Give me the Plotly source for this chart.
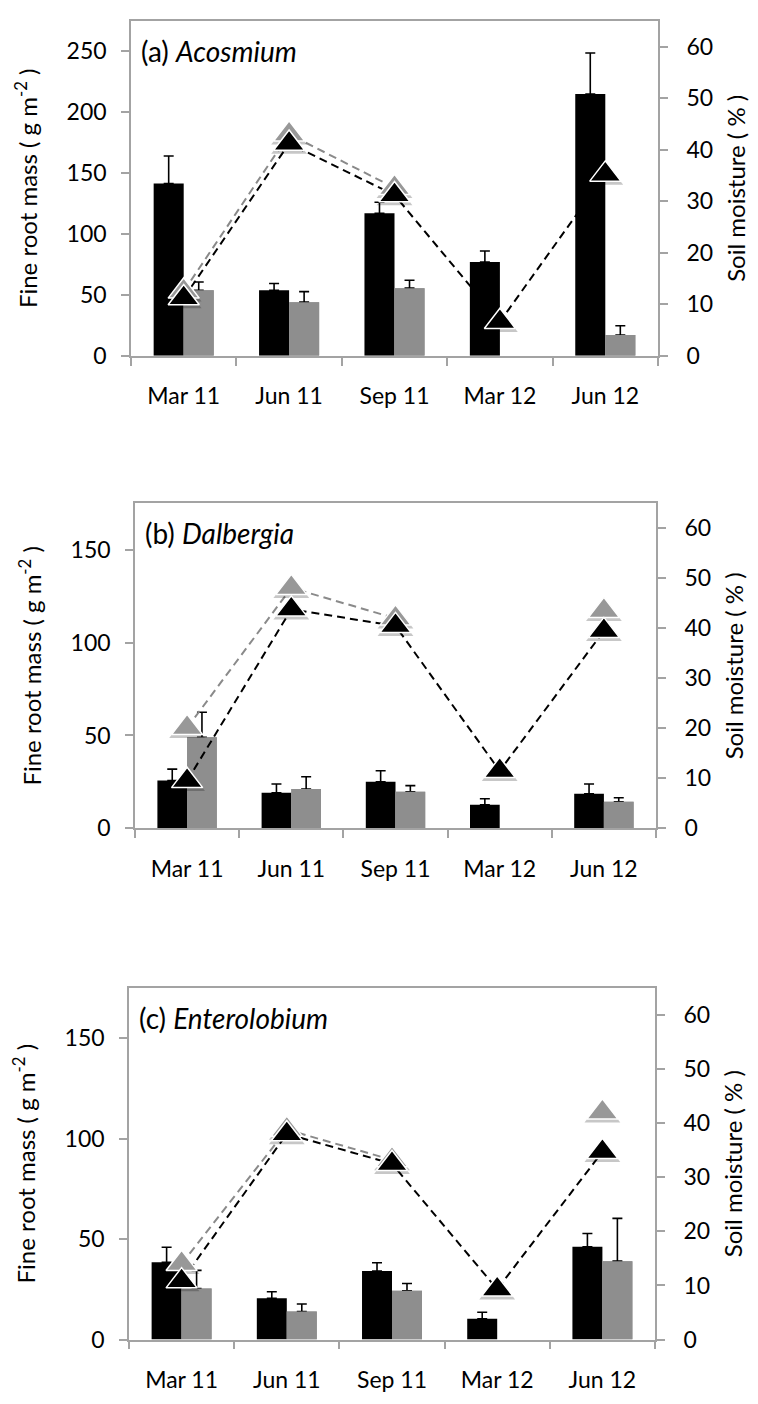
import plotly.graph_objects as go

months = ["Mar 11", "Jun 11", "Sep 11", "Mar 12", "Jun 12"]
root_ticks_a = [0, 50, 100, 150, 200, 250]
root_ticks_bc = [0, 50, 100, 150]
moist_ticks = [0, 10, 20, 30, 40, 50, 60]

panel_labels = ["(a) ", "(b) ", "(c) "]
species = ["Acosmium", "Dalbergia", "Enterolobium"]

# fine root mass (g m-2), black and gray series, with upper error (SE)
a_black = [141.5, 53.8, 117.0, 77.0, 215.0]
a_black_se = [22.5, 5.5, 9.0, 9.0, 33.6]
a_gray = [53.8, 44.0, 55.5, None, 17.0]
a_gray_se = [6.8, 8.7, 6.5, None, 7.6]

b_black = [25.7, 19.1, 25.1, 12.7, 18.6]
b_black_se = [6.2, 4.8, 5.9, 3.2, 5.3]
b_gray = [49.0, 21.2, 19.7, None, 14.3]
b_gray_se = [13.5, 6.6, 3.3, None, 2.2]

c_black = [38.5, 20.5, 34.1, 10.3, 46.2]
c_black_se = [7.4, 3.3, 4.1, 3.3, 6.6]
c_gray = [25.4, 13.9, 24.3, None, 39.0]
c_gray_se = [9.0, 3.8, 3.6, None, 21.3]

# soil moisture (%)
a_moist_black = [11.2, 41.2, 31.2, 6.6, 35.2]
a_moist_gray = [12.5, 43.0, 32.6, None, None]
b_moist_black = [9.5, 43.8, 40.5, 11.5, 39.5]
b_moist_gray = [20.1, 48.1, 42.0, None, 43.5]
c_moist_black = [10.8, 38.0, 32.5, 9.3, 34.7]
c_moist_gray = [14.0, 38.8, 33.2, None, 42.0]

panels = [
    (a_black, a_black_se, a_gray, a_gray_se, a_moist_black, a_moist_gray, root_ticks_a, 275),
    (b_black, b_black_se, b_gray, b_gray_se, b_moist_black, b_moist_gray, root_ticks_bc, 175),
    (c_black, c_black_se, c_gray, c_gray_se, c_moist_black, c_moist_gray, root_ticks_bc, 175),
]

W, H = 758, 1404
# pixel boxes of the plot areas (left, right, top, bottom)
boxes = [(123, 650, 13, 351), (127, 648, 500, 828), (121, 647, 989, 1344)]
MOIST_MAX = 65

FONT = "Lato"
FRAME = "#a3a3a3"
BLACK = "#000000"
GRAY_BAR = "#8e8e8e"
GRAY_MK = "#989898"
SHADOW_PX = 2.5

fig = go.Figure()
layout = dict(
    width=W, height=H, margin=dict(l=0, r=0, t=0, b=0),
    paper_bgcolor="white", plot_bgcolor="white",
    showlegend=False, barmode="group", bargap=0.43, bargroupgap=0,
    font=dict(family=FONT, size=23, color="black"),
    annotations=[],
)


def shadow(vals, px_per_unit):
    return [None if v is None else v - SHADOW_PX / px_per_unit for v in vals]


for i, (blk, blk_se, gry, gry_se, mb, mg, rticks, rmax) in enumerate(panels):
    xid = "x" if i == 0 else f"x{i+1}"
    yl = "y" if i == 0 else f"y{2*i+1}"
    yr = f"y{2*i+2}"
    l, r, t, b = boxes[i]
    xdom = [l / W, r / W]
    ydom = [1 - b / H, 1 - t / H]
    ppu = (b - t) / MOIST_MAX

    fig.add_trace(go.Bar(
        x=months, y=blk, xaxis=xid, yaxis=yl, offsetgroup="k",
        marker=dict(color=BLACK, line=dict(width=0)),
        error_y=dict(type="data", symmetric=False, array=blk_se,
                     arrayminus=[0] * 5, color=BLACK, thickness=1.6, width=5),
        hoverinfo="skip"))
    fig.add_trace(go.Bar(
        x=months, y=gry, xaxis=xid, yaxis=yl, offsetgroup="g",
        marker=dict(color=GRAY_BAR, line=dict(width=0)),
        error_y=dict(type="data", symmetric=False, array=gry_se,
                     arrayminus=[0] * 5, color=BLACK, thickness=1.6, width=5),
        hoverinfo="skip"))
    # same gray bars again, covering the lower cap of the error bars
    fig.add_trace(go.Bar(
        x=months, y=gry, xaxis=xid, yaxis=yl, offsetgroup="g",
        marker=dict(color=GRAY_BAR, line=dict(width=0)), hoverinfo="skip"))

    for vals, lc in ((mg, "#8a8a8a"), (mb, BLACK)):
        fig.add_trace(go.Scatter(
            x=months, y=vals, xaxis=xid, yaxis=yr, mode="lines",
            connectgaps=False,
            line=dict(color=lc, width=2, dash="8px,5px"), hoverinfo="skip"))
    for vals, mc in ((mg, GRAY_MK), (mb, BLACK)):
        fig.add_trace(go.Scatter(
            x=months, y=shadow(vals, ppu), xaxis=xid, yaxis=yr, mode="markers",
            marker=dict(symbol="triangle-up", size=31, color="rgba(0,0,0,0.22)",
                        line=dict(width=0)),
            hoverinfo="skip"))
        fig.add_trace(go.Scatter(
            x=months, y=vals, xaxis=xid, yaxis=yr, mode="markers",
            marker=dict(symbol="triangle-up", size=27, color=mc,
                        line=dict(color="white", width=1.5)),
            hoverinfo="skip"))

    xkey = "xaxis" if i == 0 else f"xaxis{i+1}"
    ylkey = "yaxis" if i == 0 else f"yaxis{2*i+1}"
    yrkey = f"yaxis{2*i+2}"
    layout[xkey] = dict(
        domain=xdom, anchor=yl, type="category", range=[-0.5, 4.5],
        showline=True, linecolor=FRAME, linewidth=1.6, mirror=True,
        ticks="outside", tickson="boundaries", ticklen=8, tickcolor=FRAME,
        tickwidth=1.6, showgrid=False, zeroline=False,
        ticklabelstandoff=19, tickfont=dict(family=FONT, size=23, color="black"))
    layout[ylkey] = dict(
        domain=ydom, anchor=xid, range=[0, rmax], tickvals=rticks,
        showline=True, linecolor=FRAME, linewidth=1.6,
        ticks="outside", ticklen=8, tickcolor=FRAME, tickwidth=1.6,
        showgrid=False, zeroline=False, ticklabelstandoff=10,
        tickfont=dict(family=FONT, size=23, color="black"),
        title=dict(text="Fine root mass ( g m<sup>-2</sup> )", standoff=22,
                   font=dict(family=FONT, size=24, color="black")))
    layout[yrkey] = dict(
        domain=ydom, anchor=xid, overlaying=yl, side="right", range=[0, MOIST_MAX],
        tickvals=moist_ticks,
        showline=True, linecolor=FRAME, linewidth=1.6,
        ticks="outside", ticklen=8, tickcolor=FRAME, tickwidth=1.6,
        showgrid=False, zeroline=False, ticklabelstandoff=14,
        tickfont=dict(family=FONT, size=23, color="black"),
        title=dict(text="Soil moisture ( % )", standoff=16,
                   font=dict(family=FONT, size=24, color="black")))

    layout["annotations"].append(
        dict(xref="paper", yref="paper", x=(l + 8) / W, y=1 - (t + 30) / H,
             xanchor="left", yanchor="middle", showarrow=False,
             text=panel_labels[i] + "<i>" + species[i] + "</i>",
             font=dict(family=FONT, size=28, color="black")))

fig.update_layout(**layout)
fig.write_html("out.html")
